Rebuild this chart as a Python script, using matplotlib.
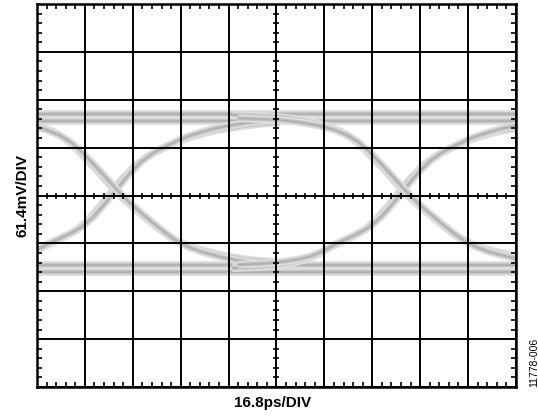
import matplotlib
matplotlib.use("Agg")
import matplotlib.pyplot as plt
import numpy as np

plt.rcParams['font.family'] = ['Liberation Sans', 'DejaVu Sans']

# ------------------------------------------------------------
# eye diagram, read off the scope shot (units = divisions)
# x: 0..10 div (16.8 ps/div), y: -4..4 div (61.4 mV/div)
# ------------------------------------------------------------
crossings = [1.63, 7.64]          # crossing points in time
edge_offsets = [-3.5, -3.25, -3.0, -2.75, -2.5, -2.25, -2.0, -1.75, -1.5,
                -1.25, -1.0, -0.75, -0.5, -0.25, 0.0, 0.25, 0.5, 0.75, 1.0,
                1.25, 1.5, 1.75, 2.0, 2.25, 2.5, 2.75, 3.0, 3.25, 3.5]
rise_v = [-1.48, -1.47, -1.46, -1.44, -1.41, -1.37, -1.31, -1.21, -1.07,
          -0.95, -0.83, -0.69, -0.47, -0.18, 0.13, 0.43, 0.68, 0.86, 0.99,
          1.11, 1.21, 1.29, 1.36, 1.41, 1.45, 1.49, 1.52, 1.54, 1.56]
fall_v = [1.65, 1.64, 1.63, 1.62, 1.60, 1.57, 1.53, 1.48, 1.41,
          1.31, 1.16, 0.94, 0.68, 0.41, 0.13, -0.12, -0.34, -0.55, -0.75,
          -0.93, -1.05, -1.14, -1.21, -1.27, -1.32, -1.36, -1.39, -1.41, -1.43]
high_levels = [1.70, 1.55]        # "one" rail (two traces)
low_levels = [-1.45, -1.60]       # "zero" rail (two traces)

jitter = [-0.06, 0.06]            # the edges show up as double lines


def trace(ax, x, y):
    # soft grey scope trace
    ax.plot(x, y, color='#dedede', lw=5.5, solid_capstyle='butt', zorder=1)
    ax.plot(x, y, color='#c4c4c4', lw=3.0, solid_capstyle='butt', zorder=1)
    ax.plot(x, y, color='#a8a8a8', lw=1.2, alpha=0.7, zorder=1)


fig = plt.figure(figsize=(5.38, 4.17), dpi=100)
ax = fig.add_axes([0.0688, 0.0719, 0.8902, 0.9185])

for lvl in high_levels + low_levels:
    trace(ax, [0, 10], [lvl, lvl])

offs = np.array(edge_offsets)
for tc in crossings:
    for j in jitter:
        trace(ax, tc + offs + j, np.array(rise_v) + j * 0.6)
        trace(ax, tc + offs + j, np.array(fall_v) - j * 0.6)

ax.set_xlim(0, 10)
ax.set_ylim(-4, 4)

# graticule
ax.set_xticks(np.arange(0, 11, 1))
ax.set_yticks(np.arange(-4, 5, 1))
ax.set_xticks(np.arange(0, 10.01, 0.2), minor=True)
ax.set_yticks(np.arange(-4, 4.01, 0.2), minor=True)
ax.grid(True, which='major', color='black', lw=1.4, zorder=2)
ax.tick_params(which='both', direction='in', top=True, right=True,
               labelbottom=False, labelleft=False)
ax.tick_params(which='major', length=0)
ax.tick_params(which='minor', length=3.5, width=1.2, color='black')
for s in ax.spines.values():
    s.set_linewidth(1.8)
    s.set_zorder(3)

# small ticks on the centre cross
mx = np.arange(0.2, 10, 0.2)
my = np.arange(-3.8, 4, 0.2)
ax.plot(mx, np.zeros_like(mx), ls='none', marker='|', ms=4.5, mew=1.2,
        color='black', zorder=3)
ax.plot(np.full_like(my, 5), my, ls='none', marker='_', ms=4.5, mew=1.2,
        color='black', zorder=3)

fig.text(0.042, 0.53, '61.4mV/DIV', rotation=90, ha='center', va='center',
         fontsize=11, fontweight='bold')
fig.text(0.506, 0.034, '16.8ps/DIV', ha='center', va='center',
         fontsize=11, fontweight='bold')
fig.text(0.9935, 0.132, '11778-006', rotation=90, ha='center', va='center',
         fontsize=7.5)

fig.savefig('out.png', dpi=100)
